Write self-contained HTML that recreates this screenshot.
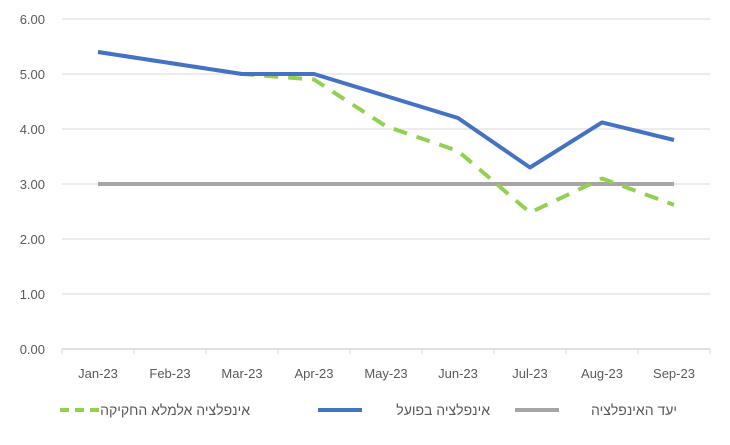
<!DOCTYPE html>
<html><head><meta charset="utf-8"><style>
body{margin:0;background:#fff;}
svg text{font-family:"Liberation Sans",sans-serif;fill:#595959;}
</style></head><body>
<svg id="chart" width="730" height="440" viewBox="0 0 730 440" xmlns="http://www.w3.org/2000/svg"></svg>
<script>
const categories=["Jan-23","Feb-23","Mar-23","Apr-23","May-23","Jun-23","Jul-23","Aug-23","Sep-23"];
const actual=[5.4,5.2,5.0,5.0,4.6,4.2,3.3,4.12,3.8];
const withoutLaw=[5.4,5.2,5.0,4.9,4.05,3.6,2.48,3.1,2.62];
const target=[3,3,3,3,3,3,3,3,3];
const yTicks=[0,1,2,3,4,5,6];
const NS="http://www.w3.org/2000/svg";
const svg=document.getElementById("chart");
const L=62,R=710,T=19,B=349,yMax=6;
const band=(R-L)/categories.length;
const x=i=>L+band*(i+0.5);
const y=v=>B-(v/yMax)*(B-T);
function mk(tag,attrs){const e=document.createElementNS(NS,tag);for(const k in attrs)e.setAttribute(k,attrs[k]);svg.appendChild(e);return e;}
yTicks.forEach(t=>{
 const g=mk("line",{x1:L,x2:R,y1:y(t),y2:y(t),stroke:t===0?"#bfbfbf":"#d9d9d9","stroke-width":1});
 
 
 const tx=mk("text",{x:45,y:y(t)+5,"font-size":13,"text-anchor":"end"});
 tx.textContent=t.toFixed(2);
 
 
});
for(let i=0;i<=categories.length;i++){
 const tk=mk("line",{x1:L+band*i,x2:L+band*i,y1:B,y2:B+5,stroke:"#d9d9d9"});
 
 
}
categories.forEach((c,i)=>{
 const tx=mk("text",{x:x(i),y:378,"font-size":13,"text-anchor":"middle"});
 tx.textContent=c;
 
 
});
function series(vals,color,dash,name){
 const p=mk("polyline",{points:vals.map((v,i)=>x(i)+","+y(v)).join(" "),fill:"none",stroke:color,"stroke-width":4,"stroke-dasharray":dash,"stroke-linejoin":"round"});
 
 
}
series(target,"#a5a5a5","none","target-line");
series(withoutLaw,"#92d050","14,10","without-law-line");
series(actual,"#4472c4","none","actual-line");
const legend=[["#92d050","9,6","אינפלציה אלמלא החקיקה",60,250,"legend-without-law"],["#4472c4","none","אינפלציה בפועל",318,490,"legend-actual"],["#a5a5a5","none","יעד האינפלציה",515,677,"legend-target"]];
legend.forEach(([c,d,t,x1,xe,n])=>{
 const l=mk("line",{x1:x1,x2:x1+44,y1:410,y2:410,stroke:c,"stroke-width":4,"stroke-dasharray":d});
 
 
 const tx=mk("text",{x:xe,y:415,"font-size":14,"text-anchor":"end"});
 tx.textContent=t;
 
 
});
</script>
</body></html>
